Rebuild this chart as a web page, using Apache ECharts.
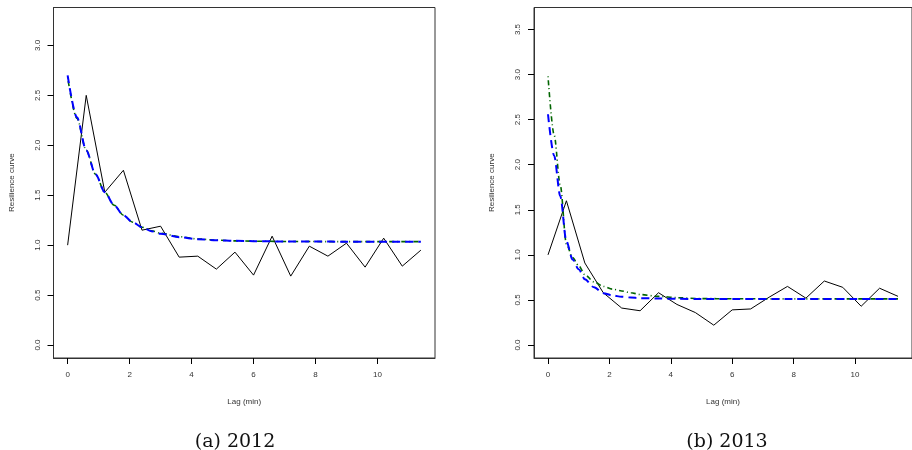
<!DOCTYPE html>
<html>
<head>
<meta charset="utf-8">
<script src="https://cdn.jsdelivr.net/npm/echarts@6/dist/echarts.min.js"></script>
<style>
  html, body { margin: 0; padding: 0; background: #fff; }
  #main { width: 912px; height: 450px; }
</style>
</head>
<body>
<div id="main"></div>
<script>
// observed resilience curve, lag in minutes
var lags = [0, 0.6, 1.2, 1.8, 2.4, 3.0, 3.6, 4.2, 4.8, 5.4, 6.0, 6.6, 7.2, 7.8, 8.4, 9.0, 9.6, 10.2, 10.8, 11.4];
var obs2012 = [1.0, 2.5, 1.53, 1.75, 1.15, 1.19, 0.88, 0.89, 0.76, 0.93, 0.70, 1.09, 0.69, 0.99, 0.89, 1.02, 0.78, 1.07, 0.79, 0.95];
var obs2013 = [1.0, 1.6, 0.91, 0.58, 0.41, 0.38, 0.58, 0.45, 0.36, 0.22, 0.39, 0.40, 0.53, 0.65, 0.52, 0.71, 0.64, 0.43, 0.63, 0.54];

// fitted curves
var fitLags2012 = [0, 0.3, 0.6, 0.9, 1.2, 1.5, 1.8, 2.1, 2.4, 2.7, 3.0, 3.6, 4.2, 4.8, 5.4, 6.0, 7.0, 8.0, 9.0, 10.0, 11.4];
var blue2012 = [2.70, 2.28, 1.95, 1.71, 1.53, 1.40, 1.30, 1.23, 1.18, 1.14, 1.115, 1.08, 1.06, 1.05, 1.043, 1.04, 1.037, 1.036, 1.035, 1.035, 1.035];
var green2012 = [2.68, 2.27, 1.95, 1.71, 1.53, 1.40, 1.30, 1.23, 1.18, 1.145, 1.12, 1.085, 1.062, 1.05, 1.043, 1.04, 1.037, 1.036, 1.035, 1.035, 1.035];

var fitLags2013 = [0, 0.2, 0.4, 0.6, 0.8, 1.0, 1.2, 1.5, 1.8, 2.1, 2.4, 2.7, 3.0, 3.6, 4.2, 5.0, 6.0, 8.0, 10.0, 11.4];
var blue2013 = [2.56, 2.10, 1.65, 1.15, 0.95, 0.84, 0.73, 0.64, 0.575, 0.55, 0.535, 0.527, 0.52, 0.515, 0.512, 0.51, 0.51, 0.51, 0.51, 0.51];
var green2013 = [2.98, 2.33, 1.77, 1.12, 0.97, 0.88, 0.78, 0.70, 0.65, 0.62, 0.60, 0.58, 0.56, 0.54, 0.525, 0.515, 0.513, 0.512, 0.512, 0.512];

var xTicks = [0, 2, 4, 6, 8, 10];
var yTicks2012 = [0, 0.5, 1.0, 1.5, 2.0, 2.5, 3.0];
var yTicks2013 = [0, 0.5, 1.0, 1.5, 2.0, 2.5, 3.0, 3.5];

function pairs(xs, ys) {
  return xs.map(function (x, i) { return [x, ys[i]]; });
}

var chart = echarts.init(document.getElementById('main'));

function labelFont() {
  return { fontFamily: 'Liberation Sans, Arial, sans-serif', fontSize: 8, color: '#333' };
}
var captionFont = { fontFamily: 'DejaVu Serif, Liberation Serif, serif', fontWeight: 'normal', fontSize: 19, color: '#111' };

function xAxisFor(idx) {
  return {
    type: 'value',
    gridIndex: idx,
    min: -0.456,
    max: 11.856,
    name: 'Lag (min)',
    nameLocation: 'middle',
    nameGap: 40,
    nameTextStyle: labelFont(),
    axisLine: { show: true, onZero: false, lineStyle: { color: '#333', width: 1 } },
    axisTick: { show: true, length: 6, customValues: xTicks, lineStyle: { color: '#000', width: 1 } },
    axisLabel: Object.assign({ margin: 13, customValues: xTicks }, labelFont()),
    splitLine: { show: false }
  };
}

function yAxisFor(idx, max, ticks) {
  return {
    type: 'value',
    gridIndex: idx,
    min: -0.04 * (max / 1.04),
    max: max,
    name: 'Resilience curve',
    nameLocation: 'middle',
    nameGap: 38,
    nameTextStyle: labelFont(),
    axisLine: { show: true, onZero: false, lineStyle: { color: '#333', width: 1 } },
    axisTick: { show: true, length: 6, customValues: ticks, lineStyle: { color: '#000', width: 1 } },
    axisLabel: Object.assign({
      margin: 12, rotate: 90, customValues: ticks,
      formatter: function (v) { return v.toFixed(1); }
    }, labelFont()),
    splitLine: { show: false }
  };
}

var option = {
  animation: false,
  backgroundColor: '#fff',
  title: [
    { text: '(a) 2012', left: 230, top: 428, textAlign: 'center', textStyle: captionFont },
    { text: '(b) 2013', left: 722, top: 428, textAlign: 'center', textStyle: captionFont }
  ],
  grid: [
    { left: 53.5, top: 7.5, width: 381.5, height: 350.5, show: true, borderColor: '#333', borderWidth: 1 },
    { left: 534, top: 7.5, width: 381.5, height: 350.5, show: true, borderColor: '#333', borderWidth: 1 }
  ],
  xAxis: [xAxisFor(0), xAxisFor(1)],
  yAxis: [yAxisFor(0, 3.38, yTicks2012), yAxisFor(1, 3.744, yTicks2013)],
  series: [
    { type: 'line', xAxisIndex: 0, yAxisIndex: 0, data: pairs(lags, obs2012), symbol: 'none',
      lineStyle: { color: '#000', width: 1 } },
    { type: 'line', xAxisIndex: 0, yAxisIndex: 0, data: pairs(fitLags2012, green2012), symbol: 'none',
      smooth: 0.3, smoothMonotone: 'x',
      lineStyle: { color: '#006400', width: 1.6, type: [1, 3, 5, 3] } },
    { type: 'line', xAxisIndex: 0, yAxisIndex: 0, data: pairs(fitLags2012, blue2012), symbol: 'none',
      smooth: 0.3, smoothMonotone: 'x',
      lineStyle: { color: '#0000ff', width: 2, type: [8, 5] } },

    { type: 'line', xAxisIndex: 1, yAxisIndex: 1, data: pairs(lags, obs2013), symbol: 'none',
      lineStyle: { color: '#000', width: 1 } },
    { type: 'line', xAxisIndex: 1, yAxisIndex: 1, data: pairs(fitLags2013, green2013), symbol: 'none',
      smooth: 0.3, smoothMonotone: 'x',
      lineStyle: { color: '#006400', width: 1.6, type: [1, 3, 5, 3] } },
    { type: 'line', xAxisIndex: 1, yAxisIndex: 1, data: pairs(fitLags2013, blue2013), symbol: 'none',
      smooth: 0.3, smoothMonotone: 'x',
      lineStyle: { color: '#0000ff', width: 2, type: [8, 5] } }
  ]
};

chart.setOption(option);
</script>
</body>
</html>
